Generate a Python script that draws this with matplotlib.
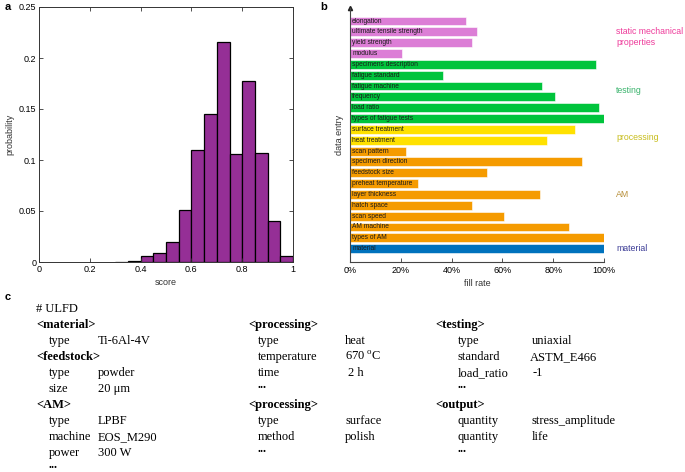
import matplotlib
matplotlib.use('Agg')
import matplotlib.pyplot as plt
import numpy as np

plt.rcParams['font.family'] = ['Liberation Sans', 'DejaVu Sans']
plt.rcParams['mathtext.fontset'] = 'custom'
plt.rcParams['mathtext.rm'] = 'Liberation Serif'

# panel a: score histogram
bin_edges = [0.30, 0.35, 0.40, 0.45, 0.50, 0.55, 0.60, 0.65, 0.70, 0.75,
             0.80, 0.85, 0.90, 0.95, 1.00]
probability = [0.0004, 0.001, 0.006, 0.009, 0.020, 0.051, 0.110, 0.145,
               0.216, 0.106, 0.177, 0.107, 0.040, 0.006]

# panel b: fill rate per data entry (top to bottom)
entries = ['elongation', 'ultimate tensile strength', 'yield strength', 'modulus',
           'specimens description', 'fatigue standard', 'fatigue machine', 'frequency',
           'load ratio', 'types of fatigue tests', 'surface treatment', 'heat treatment',
           'scan pattern', 'specimen direction', 'feedstock size', 'preheat temperature',
           'layer thickness', 'hatch space', 'scan speed', 'AM machine', 'types of AM',
           'material']
fill_rate = [0.457, 0.50, 0.482, 0.203, 0.97, 0.365, 0.757, 0.807, 0.98, 1.0,
             0.886, 0.776, 0.222, 0.912, 0.538, 0.266, 0.747, 0.48, 0.605, 0.861,
             1.0, 1.0]
entry_group = ['static'] * 4 + ['testing'] * 6 + ['processing'] * 2 + ['AM'] * 9 + ['material']
group_colors = {'static': '#DC7ED6', 'testing': '#00C43C', 'processing': '#FFE100',
                'AM': '#F59B00', 'material': '#0072BD'}
group_labels = ['static mechanical\nproperties', 'testing', 'processing', 'AM', 'material']
group_label_colors = ['#EE3C9B', '#3CB46E', '#C8BE1E', '#B8903C', '#3C3C96']
group_label_rows = [1.5, 6.4, 10.7, 16, 21]

# panel c: ULFD example text (x px, row index, text, bold)
ulfd_lines = [
    (36, 0, '# ULFD', False),
    (36, 1, '<material>', True), (49, 2, 'type', False), (98, 2, 'Ti-6Al-4V', False),
    (36, 3, '<feedstock>', True), (49, 4, 'type', False), (98, 4, 'powder', False),
    (49, 5, 'size', False), (98, 5, '20 \u03bcm', False),
    (36, 6, '<AM>', True), (49, 7, 'type', False), (98, 7, 'LPBF', False),
    (49, 8, 'machine', False), (98, 8, 'EOS_M290', False),
    (49, 9, 'power', False), (98, 9, '300 W', False), (49, 10, '...', True),
    (248, 1, '<processing>', True), (258, 2, 'type', False), (345, 2, 'heat', False),
    (258, 3, 'temperature', False), (345, 3, '670 $^{\\rm o}$C', False),
    (258, 4, 'time', False), (348, 4, '2 h', False), (258, 5, '...', True),
    (248, 6, '<processing>', True), (258, 7, 'type', False), (345, 7, 'surface', False),
    (258, 8, 'method', False), (345, 8, 'polish', False), (258, 9, '...', True),
    (435, 1, '<testing>', True), (458, 2, 'type', False), (532, 2, 'uniaxial', False),
    (458, 3, 'standard', False), (530, 3, 'ASTM_E466', False),
    (458, 4, 'load_ratio', False), (533, 4, '-1', False), (458, 5, '...', True),
    (435, 6, '<output>', True), (458, 7, 'quantity', False),
    (532, 7, 'stress_amplitude', False),
    (458, 8, 'quantity', False), (532, 8, 'life', False), (458, 9, '...', True),
]

W, H = 685, 472
fig = plt.figure(figsize=(W / 100, H / 100), dpi=100)

# ---- panel a
ax1 = fig.add_axes([39 / W, 1 - 262 / H, 254 / W, 255 / H])
ax1.bar(bin_edges[:-1], probability, width=np.diff(bin_edges), align='edge',
        color='#952F96', edgecolor='black', linewidth=0.9)
ax1.set_xlim(0, 1)
ax1.set_ylim(0, 0.25)
ax1.set_xticks([0, 0.2, 0.4, 0.6, 0.8, 1])
ax1.set_xticklabels(['0', '0.2', '0.4', '0.6', '0.8', '1'])
ax1.set_yticks([0, 0.05, 0.1, 0.15, 0.2, 0.25])
ax1.set_yticklabels(['0', '0.05', '0.1', '0.15', '0.2', '0.25'])
ax1.tick_params(direction='in', top=True, right=True, labelsize=6.5, length=3,
                width=0.6, pad=2, color='#333333')
for s in ax1.spines.values():
    s.set_linewidth(0.7)
    s.set_color('#333333')
ax1.set_xlabel('score', fontsize=6.5, labelpad=3, color='#333333')
ax1.set_ylabel('probability', fontsize=6.5, labelpad=3, color='#333333')

# ---- panel b
ax2 = fig.add_axes([350 / W, 1 - 262 / H, 254 / W, 254 / H])
n = len(entries)
ypos = np.arange(n)[::-1]
ax2.barh(ypos, fill_rate, height=0.82,
         color=[group_colors[g] for g in entry_group], edgecolor='white', linewidth=0.4)
for y, name in zip(ypos, entries):
    ax2.text(0.008, y, name, fontsize=4.8, va='center', ha='left', color='#1a1a1a')
ax2.set_xlim(0, 1)
ax2.set_ylim(-1.23, n - 1 + 1.2)
ax2.set_xticks([0, 0.2, 0.4, 0.6, 0.8, 1.0])
ax2.set_xticklabels(['0%', '20%', '40%', '60%', '80%', '100%'])
ax2.set_yticks([])
ax2.tick_params(axis='x', direction='in', labelsize=6.5, length=3, width=0.6,
                pad=3, color='#333333')
ax2.spines['top'].set_visible(False)
ax2.spines['right'].set_visible(False)
for s in ['left', 'bottom']:
    ax2.spines[s].set_linewidth(0.8)
    ax2.spines[s].set_color('#444444')
ax2.plot(0, 1, marker='^', color='#222222', markersize=3, transform=ax2.transAxes,
         clip_on=False)
ax2.set_xlabel('fill rate', fontsize=6.5, labelpad=3, color='#333333')
ax2.set_ylabel('data entry', fontsize=6.5, labelpad=4, color='#333333')
for lab, col, r in zip(group_labels, group_label_colors, group_label_rows):
    ax2.text(1.048, n - 1 - r, lab, color=col, fontsize=6.3, va='center', ha='left',
             transform=ax2.get_yaxis_transform(), linespacing=1.3)

# ---- panel c
for x, row, txt, bold in ulfd_lines:
    base = 312 + 16 * row
    if txt == '...':
        base -= 4
    fig.text(x / W, 1 - base / H, txt, fontsize=9, va='baseline', ha='left',
             family=['Liberation Serif', 'DejaVu Serif'],
             fontweight='bold' if bold else 'normal')

# panel letters
fig.text(5 / W, 1 - 7 / H, 'a', fontsize=8, fontweight='bold', va='center')
fig.text(320 / W, 1 - 7 / H, 'b', fontsize=8, fontweight='bold', va='center')
fig.text(5 / W, 1 - 297 / H, 'c', fontsize=8, fontweight='bold', va='center')

fig.savefig('out.png', dpi=100)
